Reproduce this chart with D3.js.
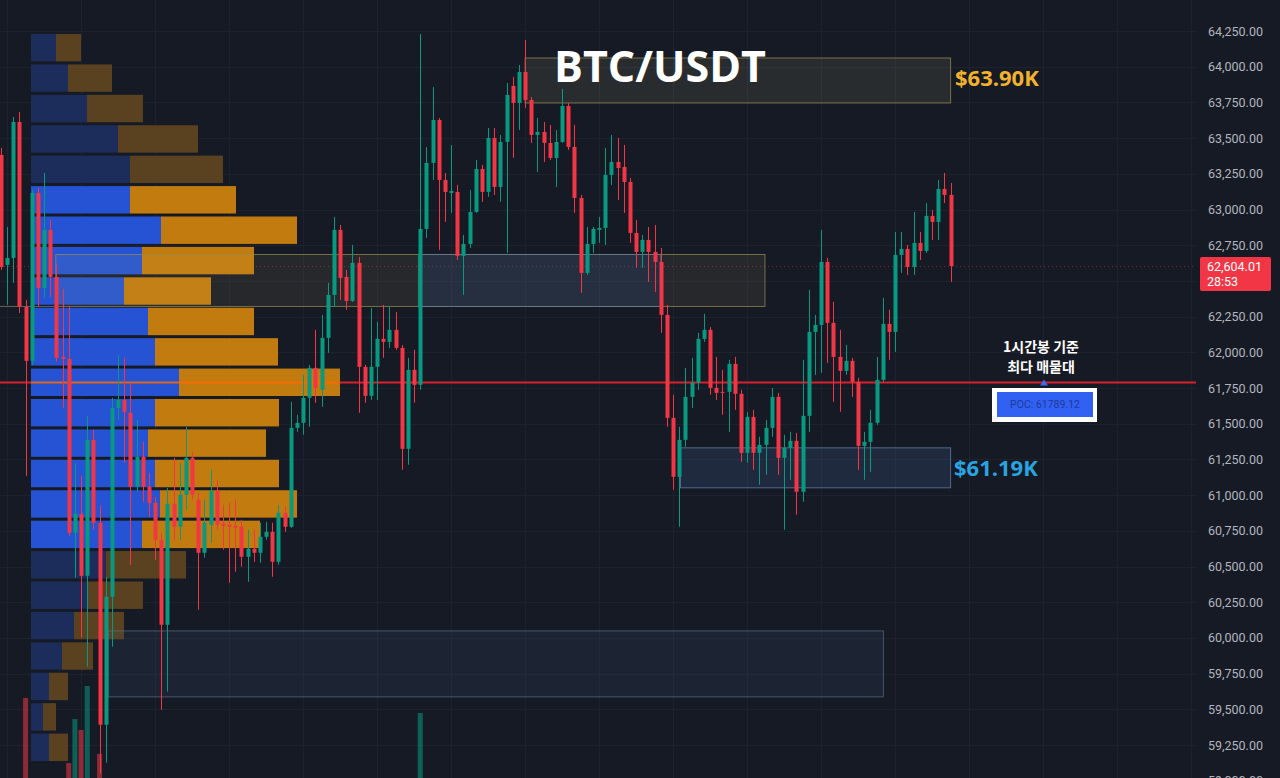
<!DOCTYPE html>
<html><head><meta charset="utf-8">
<script src="https://cdn.jsdelivr.net/npm/d3@7"></script>
<style>html,body{margin:0;padding:0;background:#161a25;overflow:hidden}</style>
</head><body><svg id="c" width="1280" height="778"></svg>
<script>
// ---------- DATA (1h BTC/USDT candles) ----------
const openP = [63382,62612,62661,63613,62318,61940,63116,62451,62857,62528,
61968,61954,60736,60869,60435,61387,60806,59392,60288,61611,
61667,61576,61058,61268,61058,60946,60687,60092,60939,60778,
61002,61261,60967,60596,60792,61030,60799,60792,60785,60778,
60568,60624,60596,60708,60743,60533,60876,60778,61471,61506,
61681,61891,61737,62101,62402,62857,62528,62360,62626,61898,
61695,61898,62094,62073,62157,62031,61324,61877,61772,62864,
63326,63627,63207,63116,63123,62675,62759,62983,63284,63123,
63501,63158,63473,63865,63746,63963,63767,63522,63543,63466,
63361,63473,63725,63438,63081,62556,62759,62857,62871,63242,
63333,63298,63193,62836,62703,62787,62703,62633,62262,61541,
61128,61387,61688,61786,62094,62157,61751,61723,61723,61919,
61709,61296,61548,61296,61352,61471,61688,61261,61331,61380,
61023,61555,62143,62192,62633,62206,61968,61870,61940,61793,
61345,61373,61506,61807,62199,62143,62682,62724,62598,62766,
62710,62955,62913,63144,63102];
const highP = [63431,62878,63648,63683,62367,63137,63151,63256,62927,62612,
62444,62325,61226,61135,61555,61457,60925,60428,61681,61982,
61961,61786,61527,61373,61156,60988,60736,61051,61261,61226,
61478,61303,61016,60967,61177,61107,60932,60946,60967,60827,
60757,60757,60806,60813,60806,60932,60918,61653,61562,61842,
61912,62157,62262,62486,62948,62892,62577,62752,62668,61912,
62311,62213,62332,62325,62283,62052,61961,62017,64229,63438,
63858,63641,63256,63452,63172,62822,63137,63347,63312,63571,
63571,63522,63886,63928,64012,64187,63788,63641,63613,63592,
63557,63844,63746,63592,63102,62878,62878,62948,63431,63522,
63501,63452,63221,62927,62822,62878,62892,62731,62332,61702,
61478,61891,61961,62136,62269,62178,61968,61877,61947,61968,
61737,61583,61597,61408,61527,61751,61716,61422,61443,61436,
61947,62437,62262,62857,62661,62353,62157,62052,61961,61821,
61443,61597,61968,62381,62297,62843,62843,62752,62983,62843,
63046,62997,63207,63256,63186];
const lowP = [62577,62332,62486,62276,61135,61912,62318,62381,62388,61933,
61611,60715,60421,60001,59798,60757,59049,59126,59938,61527,
61226,60512,61023,60953,60848,60547,59497,59623,60687,60687,
60897,60967,60197,60561,60666,60757,60617,60386,60463,60498,
60393,60533,60526,60687,60428,60512,60743,60771,61443,61422,
61478,61646,61618,61996,62318,62367,62297,62353,61576,61646,
61667,61667,61961,62031,62017,61177,61212,61646,61737,62801,
63207,62717,62913,62976,62647,62402,62731,62976,63053,63088,
63102,63053,62696,63361,63557,63711,63466,63263,63333,63347,
63158,63466,63417,62976,62416,62542,62696,62766,62752,63172,
63067,62976,62766,62591,62591,62493,62423,62136,61478,61037,
60778,61338,61611,61737,62073,61702,61667,61562,61443,61597,
61233,61226,61177,61072,61142,61408,61142,60757,61107,60862,
60953,61443,61842,61856,61926,61653,61583,61842,61688,61177,
61107,61163,61492,61793,61947,62003,62556,62542,62542,62647,
62696,62787,62787,63046,62493];
const closeP = [62598,62661,63613,62318,61940,63116,62451,62857,62528,61961,
61954,60736,60869,60435,61387,60806,59392,60288,61611,61667,
61583,61058,61268,61058,60946,60687,60092,60939,60778,61002,
61261,61002,60596,60806,61030,60792,60785,60778,60771,60568,
60624,60596,60708,60743,60533,60876,60778,61471,61506,61681,
61891,61751,62101,62402,62857,62521,62360,62626,61898,61695,
61898,62094,62073,62157,62031,61324,61877,61772,62864,63326,
63627,63207,63123,63130,62675,62759,62983,63284,63123,63501,
63158,63473,63802,63746,63963,63767,63522,63543,63466,63361,
63473,63725,63438,63081,62556,62759,62864,62871,63242,63333,
63291,63193,62836,62703,62787,62703,62633,62262,61541,61128,
61387,61688,61786,62094,62157,61751,61716,61716,61919,61709,
61296,61548,61296,61352,61471,61688,61261,61331,61380,61023,
61555,62143,62192,62633,62206,61968,61870,61940,61793,61345,
61373,61506,61807,62199,62143,62682,62724,62598,62766,62710,
62955,62913,63144,63102,62604.01];

// volume bars that reach into the visible area (candle index, volume)
const volIndex = [4, 11, 12, 13, 14, 16, 68];
const volValue = [1775, 962, 1512, 1375, 1925, 1075, 1588];

// price axis ticks
const priceTicks = [59000,59250,59500,59750,60000,60250,60500,60750,61000,61250,61500,61750,62000,62250,62500,62750,63000,63250,63500,63750,64000,64250];

// volume profile (rows from top, buy / sell volume)
const profileBuy  = [25,37,56,87,99,99,130,111,93,117,124,148,124,117,124,129,111,75,56,43,31,18,12,18];
const profileSell = [25,44,56,80,93,106,136,112,87,106,123,161,124,118,124,137,118,80,56,50,31,19,13,19];
const profileTop = 64229, profileStep = 213;
const valueArea = [60608, 63164];
const pocPrice = 61789.12;
const lastPrice = 62604.01;
const countdown = "28:53";

// zones: [startIndex, endIndex, priceHigh, priceLow]
const zoneTop = [85, 154, 64061, 63746];
const zoneMid = [8.9, 123.9, 62685, 62321];
const zoneMidBlue = [67.7, 107, 62685, 62321];
const zoneSupport = [110.2, 154, 61331, 61051];
const zoneLow = [17.4, 143.1, 60049, 59587];

// ---------- DRAW ----------
const svg = d3.select("#c");
const W = 1280, H = 778;
const n = openP.length;
const x = d3.scaleLinear().domain([0, n - 1]).range([0.9, 950.6]);
const y = d3.scaleLinear().domain([59250, 64250]).range([745, 31]);
const xv = d3.scaleLinear().domain([0, 310]).range([31, 341]);
const vh = d3.scaleLinear().domain([0, 3000]).range([0, 240]);
const volBase = 840;
const plotRight = 1196;

svg.append("rect").attr("width", W).attr("height", H).attr("fill", "#161a25");

// grid
const grid = svg.append("g").attr("shape-rendering", "crispEdges");
grid.selectAll(".hg").data(priceTicks).join("line")
  .attr("x1", 0).attr("x2", plotRight)
  .attr("y1", d => Math.round(y(d)) + 0.5).attr("y2", d => Math.round(y(d)) + 0.5)
  .attr("stroke", "#1e222e").attr("stroke-width", 1);
const vIdx = d3.range(1, 200, 12).filter(i => x(i) < plotRight);
grid.selectAll(".vg").data(vIdx).join("line")
  .attr("x1", d => Math.round(x(d)) + 0.5).attr("x2", d => Math.round(x(d)) + 0.5)
  .attr("y1", 0).attr("y2", H)
  .attr("stroke", "#1e222e").attr("stroke-width", 1);

// POC line
svg.append("line").attr("x1", 0).attr("x2", plotRight)
  .attr("y1", y(pocPrice)).attr("y2", y(pocPrice))
  .attr("stroke", "#d5212c").attr("stroke-width", 2);

// last price dotted line
svg.append("line").attr("x1", 0).attr("x2", plotRight)
  .attr("y1", Math.round(y(lastPrice)) + 0.5).attr("y2", Math.round(y(lastPrice)) + 0.5)
  .attr("stroke", "#f23645").attr("stroke-opacity", 0.45).attr("stroke-dasharray", "1,3");

// volume bars
const volG = svg.append("g");
volIndex.forEach((ci, k) => {
  const up = closeP[ci] >= openP[ci];
  volG.append("rect")
    .attr("x", x(ci) - 2.5).attr("width", 5)
    .attr("y", volBase - vh(volValue[k])).attr("height", vh(volValue[k]))
    .attr("fill", up ? "#089981" : "#f23645").attr("opacity", 0.55);
});

// volume profile
const prof = svg.append("g");
profileBuy.forEach((b, i) => {
  const pHi = profileTop - i * profileStep, pLo = pHi - profileStep;
  const mid = (pHi + pLo) / 2;
  const inVA = mid >= valueArea[0] && mid <= valueArea[1];
  const y0 = y(pHi), h = y(pLo) - y(pHi) - 3;
  prof.append("rect").attr("x", xv(0)).attr("y", y0).attr("width", xv(b) - xv(0)).attr("height", h)
    .attr("fill", inVA ? "#2553d3" : "#1c2d5c");
  prof.append("rect").attr("x", xv(b)).attr("y", y0).attr("width", xv(b + profileSell[i]) - xv(b)).attr("height", h)
    .attr("fill", inVA ? "#c27b0e" : "#5a4220");
  if (pocPrice <= pHi && pocPrice > pLo) {
    prof.append("line").attr("x1", xv(0)).attr("x2", xv(b + profileSell[i]))
      .attr("y1", y(pocPrice)).attr("y2", y(pocPrice))
      .attr("stroke", "#ff6a00").attr("stroke-width", 2).attr("opacity", 0.85);
  }
});

// zones
function zone(z, fill, stroke) {
  svg.append("rect")
    .attr("x", x(z[0])).attr("y", y(z[2]))
    .attr("width", x(z[1]) - x(z[0])).attr("height", y(z[3]) - y(z[2]))
    .attr("fill", fill).attr("stroke", stroke).attr("stroke-width", 1);
}
zone(zoneTop, "rgba(220,210,140,0.10)", "rgba(150,140,80,0.75)");
zone(zoneMid, "rgba(200,190,120,0.09)", "rgba(150,140,80,0.75)");
zone(zoneMidBlue, "rgba(40,75,130,0.22)", "rgba(100,125,160,0.7)");
zone(zoneSupport, "rgba(70,110,170,0.20)", "rgba(100,130,170,0.75)");
zone(zoneLow, "rgba(60,85,120,0.16)", "rgba(90,110,135,0.7)");
svg.append("line").attr("x1", 0).attr("x2", x(zoneMid[0]))
  .attr("y1", y(zoneMid[3])).attr("y2", y(zoneMid[3]))
  .attr("stroke", "rgba(150,150,130,0.6)");

// candles
const cg = svg.append("g");
const idx = d3.range(n);
cg.selectAll(".wick").data(idx).join("line")
  .attr("x1", i => Math.round(x(i)) + 0.5).attr("x2", i => Math.round(x(i)) + 0.5)
  .attr("y1", i => y(highP[i])).attr("y2", i => y(lowP[i]))
  .attr("stroke", i => closeP[i] >= openP[i] ? "#089981" : "#f23645").attr("stroke-width", 1);
cg.selectAll(".body").data(idx).join("rect")
  .attr("x", i => Math.round(x(i)) - 1.5).attr("width", 4)
  .attr("y", i => y(Math.max(openP[i], closeP[i])))
  .attr("height", i => Math.max(1, Math.abs(y(openP[i]) - y(closeP[i]))))
  .attr("fill", i => closeP[i] >= openP[i] ? "#089981" : "#f23645");

// price axis (labels hidden where the last-price tag sits)
const ly = y(lastPrice);
const shownTicks = priceTicks.filter(t => Math.abs(y(t) - (ly + 8)) > 22);
const axisG = svg.append("g").attr("transform", `translate(${plotRight + 6},0)`);
axisG.call(d3.axisRight(y).tickValues(shownTicks).tickFormat(d3.format(",.2f")).tickSize(0).tickPadding(6));
axisG.select(".domain").remove();
axisG.selectAll("text").attr("fill", "#b2b5be").style("font-family", "Roboto, 'Liberation Sans', sans-serif").style("font-size", "12.5px");

// last price label
svg.append("rect").attr("x", 1200).attr("y", ly - 9).attr("width", 71).attr("height", 34).attr("rx", 2).attr("fill", "#f23645");
svg.append("text").attr("x", 1207).attr("y", ly + 5).text(d3.format(",.2f")(lastPrice))
  .attr("fill", "#fff").style("font-family", "Roboto, sans-serif").style("font-size", "12.5px");
svg.append("text").attr("x", 1207).attr("y", ly + 20).text(countdown)
  .attr("fill", "#fff").style("font-family", "Roboto, sans-serif").style("font-size", "12.5px");

// title & labels
svg.append("text").attr("x", 660).attr("y", 82).attr("text-anchor", "middle").text("BTC/USDT")
  .attr("fill", "#ffffff").style("font-family", "'Open Sans', sans-serif").style("font-weight", 700).style("font-size", "43px");
svg.append("text").attr("x", 955).attr("y", 86).text("$" + (63900 / 1000).toFixed(2) + "K")
  .attr("fill", "#f2b22c").style("font-family", "'Open Sans', sans-serif").style("font-weight", 700).style("font-size", "22px");
svg.append("text").attr("x", 954).attr("y", 476).text("$" + (61190 / 1000).toFixed(2) + "K")
  .attr("fill", "#28a4e0").style("font-family", "'Open Sans', sans-serif").style("font-weight", 700).style("font-size", "22px");

svg.append("text").attr("x", 1041).attr("y", 352).attr("text-anchor", "middle").text("1시간봉 기준")
  .attr("fill", "#fff").style("font-family", "'Noto Sans CJK KR', sans-serif").style("font-weight", 700).style("font-size", "14px");
svg.append("text").attr("x", 1041).attr("y", 372).attr("text-anchor", "middle").text("최다 매물대")
  .attr("fill", "#fff").style("font-family", "'Noto Sans CJK KR', sans-serif").style("font-weight", 700).style("font-size", "14px");

// POC marker + label
const py = y(pocPrice);
svg.append("path").attr("d", `M1040,${py + 3} L1044,${py - 3} L1048,${py + 3} Z`).attr("fill", "#3b6cf2");
svg.append("rect").attr("x", 992).attr("y", 388).attr("width", 105).attr("height", 34).attr("fill", "#ffffff");
svg.append("rect").attr("x", 997).attr("y", 392).attr("width", 96).attr("height", 25).attr("fill", "#3061f2");
svg.append("text").attr("x", 1045).attr("y", 408).attr("text-anchor", "middle").text("POC: " + pocPrice.toFixed(2))
  .attr("fill", "#1d3a9a").style("font-family", "Roboto, sans-serif").style("font-size", "10.5px");
</script></body></html>
